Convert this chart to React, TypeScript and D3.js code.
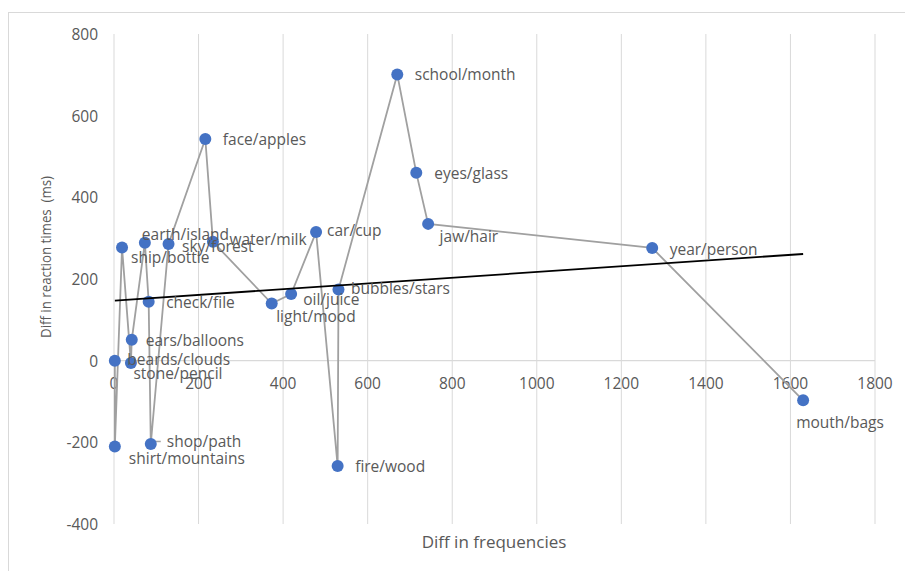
import React from "react";
import * as d3 from "d3";

const labels = [
  "beards/clouds", "shirt/mountains", "ship/bottle", "stone/pencil", "ears/balloons",
  "earth/island", "check/file", "shop/path", "sky/forest", "face/apples",
  "water/milk", "light/mood", "oil/juice", "car/cup", "fire/wood",
  "bubbles/stars", "school/month", "eyes/glass", "jaw/hair", "year/person", "mouth/bags",
];
const freqDiff = [2, 2, 19, 40, 42, 73, 82, 87, 129, 216, 234, 373, 419, 478, 529, 531, 670, 715, 743, 1273, 1630];
const rtDiff = [0, -210, 277, -6, 51, 289, 144, -204, 286, 543, 291, 140, 163, 315, -258, 174, 701, 460, 335, 276, -97];

const xTicks = [0, 200, 400, 600, 800, 1000, 1200, 1400, 1600, 1800];
const yTicks = [-400, -200, 0, 200, 400, 600, 800];

// label placement (dx to text start, dy to text centre), layout only
const labelOffset: Record<string, [number, number]> = {
  "beards/clouds": [12.5, -2],
  "shirt/mountains": [14, 12],
  "ship/bottle": [9, 9],
  "stone/pencil": [2.5, 10],
  "ears/balloons": [14, 0],
  "earth/island": [-3, -9],
  "check/file": [17.5, 0],
  "shop/path": [16, -2.5],
  "sky/forest": [13.5, 2],
  "face/apples": [17.5, 0],
  "water/milk": [16.5, -3],
  "light/mood": [4.5, 12],
  "oil/juice": [12, 5],
  "car/cup": [11, -2],
  "fire/wood": [17.5, 0],
  "bubbles/stars": [12.5, -1.5],
  "school/month": [17.5, 0],
  "eyes/glass": [18, 0],
  "jaw/hair": [11.5, 12.5],
  "year/person": [17.5, 1],
  "mouth/bags": [-7, 21.5],
};

const FONT = "'Open Sans', 'Noto Sans', sans-serif";
const TXT = "#595959";

export default function App() {
  const x = d3.scaleLinear().domain([0, 1800]).range([114, 875]);
  const y = d3.scaleLinear().domain([-400, 800]).range([524, 34]);

  const pts = freqDiff.map((f, i) => ({ f, r: rtDiff[i], label: labels[i] }));
  const line = d3.line<{ f: number; r: number }>().x((d) => x(d.f)).y((d) => y(d.r));

  // least-squares trendline
  const mx = d3.mean(freqDiff)!;
  const my = d3.mean(rtDiff)!;
  let sxy = 0, sxx = 0;
  freqDiff.forEach((f, i) => { sxy += (f - mx) * (rtDiff[i] - my); sxx += (f - mx) * (f - mx); });
  const slope = sxy / sxx;
  const icpt = my - slope * mx;
  const [x0, x1] = d3.extent(freqDiff) as [number, number];

  const shop = pts.find((p) => p.label === "shop/path")!;

  return (
    <svg width={905} height={571} style={{ position: "absolute", left: 0, top: 0, background: "#fff" }} fontFamily={FONT}>
      <rect x={8.5} y={12.5} width={1000} height={1000} fill="#fff" stroke="#d9d9d9" strokeWidth={1} />
      {xTicks.map((t) => (
        <line key={"g" + t} x1={x(t)} x2={x(t)} y1={y(800)} y2={y(-400)} stroke="#d9d9d9" strokeWidth={1} />
      ))}
      <line x1={x(0)} x2={x(1800)} y1={y(0)} y2={y(0)} stroke="#d9d9d9" strokeWidth={1.2} />
      {xTicks.map((t) => (
        <text key={"xt" + t} x={x(t)} y={y(0) + 22} textAnchor="middle" dominantBaseline="central" fontSize={15.5} fill={TXT}>{t}</text>
      ))}
      {yTicks.map((t) => (
        <text key={"yt" + t} x={98} y={y(t)} textAnchor="end" dominantBaseline="central" fontSize={15.5} fill={TXT}>{t}</text>
      ))}
      <path d={line(pts) || ""} fill="none" stroke="#a0a0a0" strokeWidth={1.8} />
      <line x1={x(shop.f) + 3} x2={x(shop.f) + 10} y1={y(shop.r) - 2.5} y2={y(shop.r) - 2.5} stroke="#a6a6a6" strokeWidth={1.5} />
      {pts.map((p) => (
        <circle key={"c" + p.label} cx={x(p.f)} cy={y(p.r)} r={6} fill="#4472c4" />
      ))}
      <line x1={x(x0)} x2={x(x1)} y1={y(icpt + slope * x0)} y2={y(icpt + slope * x1)} stroke="#000" strokeWidth={1.8} />
      {pts.map((p) => {
        const [dx, dy] = labelOffset[p.label];
        return (
          <text key={"l" + p.label} x={x(p.f) + dx} y={y(p.r) + dy} dominantBaseline="central" fontSize={15.5} fill={TXT}>{p.label}</text>
        );
      })}
      <text x={494} y={541} textAnchor="middle" dominantBaseline="central" fontSize={17} fill={TXT}>Diff in frequencies</text>
      <text transform="translate(45,257) rotate(-90)" textAnchor="middle" dominantBaseline="central" fontSize={14.5} fill={TXT}
        textLength={162} lengthAdjust="spacingAndGlyphs" style={{ whiteSpace: "pre" }}>{"Diff in reaction times  (ms)"}</text>
    </svg>
  );
}
